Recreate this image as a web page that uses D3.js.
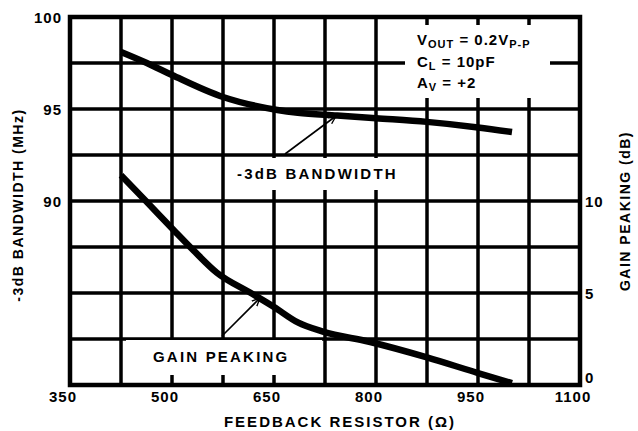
<!DOCTYPE html>
<html><head><meta charset="utf-8">
<script src="https://cdn.jsdelivr.net/npm/d3@7"></script>
<style>
html,body{margin:0;padding:0;background:#fff;}
text{font-family:"Liberation Sans",Arial,Helvetica,sans-serif;font-weight:bold;fill:#000;}
</style></head>
<body><svg id="c" width="638" height="431"></svg>
<script>
// Data
const resistor = [425, 463, 500, 575, 655, 685, 743, 800, 875, 950, 1000];
const bandwidth = [98.1, 97.5, 96.85, 95.65, 94.95, 94.8, 94.65, 94.5, 94.3, 94.0, 93.75];
const gainR = [425, 463, 503, 532, 566, 616, 650, 685, 722, 790, 875, 950, 1000];
const gainPeaking = [11.4, 9.95, 8.4, 7.3, 6.1, 5.0, 4.24, 3.4, 2.9, 2.35, 1.5, 0.65, 0.1];
const xGrid = [350,425,500,575,650,725,800,875,950,1025,1100];
const xTickLabels = [350,500,650,800,950,1100];
const yGridMHz = [80,82.5,85,87.5,90,92.5,95,97.5,100];
const yLeftLabels = [90,95,100];
const yRightLabels = [0,5,10];

const svg = d3.select("#c");
const L=70, R=580, T=17, B=385;
const x = d3.scaleLinear().domain([350,1100]).range([L,R]);
const yL = d3.scaleLinear().domain([80,100]).range([B,T]);
const yR = d3.scaleLinear().domain([0,20]).range([B,T]);

// grid
const g = svg.append("g");
g.selectAll(".vg").data(xGrid).join("line")
  .attr("x1",d=>x(d)).attr("x2",d=>x(d)).attr("y1",T).attr("y2",B)
  .attr("stroke","#000").attr("stroke-width",3.5);
g.selectAll(".hg").data(yGridMHz).join("line")
  .attr("y1",d=>yL(d)).attr("y2",d=>yL(d)).attr("x1",L).attr("x2",R)
  .attr("stroke","#000").attr("stroke-width",3.5);
g.append("rect").attr("x",L).attr("y",T).attr("width",R-L).attr("height",B-T)
  .attr("fill","none").attr("stroke","#000").attr("stroke-width",4.5);

// white boxes behind labels
svg.append("rect").attr("x",405).attr("y",25).attr("width",145).attr("height",73).attr("fill","#fff");
svg.append("rect").attr("x",229).attr("y",158).attr("width",176).attr("height",32).attr("fill","#fff");
svg.append("rect").attr("x",126).attr("y",340).attr("width",196).attr("height",35).attr("fill","#fff");

// curves
const bwLine = d3.line().x((d,i)=>x(resistor[i])).y(d=>yL(d)).curve(d3.curveMonotoneX);
svg.append("path").attr("d",bwLine(bandwidth)).attr("fill","none").attr("stroke","#000").attr("stroke-width",6.5);
const gLine = d3.line().x((d,i)=>x(gainR[i])).y(d=>yR(d)).curve(d3.curveMonotoneX);
svg.append("path").attr("d",gLine(gainPeaking)).attr("fill","none").attr("stroke","#000").attr("stroke-width",6.5);

// arrows
const defs = svg.append("defs");
defs.append("marker").attr("id","ah").attr("viewBox","0 0 10 10").attr("refX",9).attr("refY",5)
  .attr("markerWidth",9).attr("markerHeight",9).attr("orient","auto").attr("markerUnits","userSpaceOnUse")
  .append("path").attr("d","M0,1 L9,5 L0,9").attr("fill","none").attr("stroke","#000").attr("stroke-width",1.5);
svg.append("line").attr("x1",285).attr("y1",154).attr("x2",336).attr("y2",116)
  .attr("stroke","#000").attr("stroke-width",1.6).attr("marker-end","url(#ah)");
svg.append("line").attr("x1",222).attr("y1",336).attr("x2",260).attr("y2",298)
  .attr("stroke","#000").attr("stroke-width",1.6).attr("marker-end","url(#ah)");

// labels
svg.append("text").attr("x",237).attr("y",179).attr("font-size",15).attr("letter-spacing",2.2).text("-3dB BANDWIDTH");
svg.append("text").attr("x",153).attr("y",362).attr("font-size",15).attr("letter-spacing",2.2).text("GAIN PEAKING");

// legend
const lg = svg.append("g").attr("font-size",15).attr("letter-spacing",1);
let t1 = lg.append("text").attr("x",417).attr("y",45);
t1.append("tspan").text("V");
t1.append("tspan").attr("font-size",11).attr("dy",3).text("OUT");
t1.append("tspan").attr("dy",-3).text(" = 0.2V");
t1.append("tspan").attr("font-size",11).attr("dy",3).text("P-P");
let t2 = lg.append("text").attr("x",417).attr("y",67);
t2.append("tspan").text("C");
t2.append("tspan").attr("font-size",11).attr("dy",3).text("L");
t2.append("tspan").attr("dy",-3).text(" = 10pF");
let t3 = lg.append("text").attr("x",417).attr("y",88);
t3.append("tspan").text("A");
t3.append("tspan").attr("font-size",11).attr("dy",3).text("V");
t3.append("tspan").attr("dy",-3).text(" = +2");

// axes tick labels
svg.selectAll(".xt").data(xTickLabels).join("text")
  .attr("x",d=>x(d)-7).attr("y",402).attr("text-anchor","middle").attr("font-size",15).attr("letter-spacing",1)
  .text(d=>d);
svg.selectAll(".yl").data(yLeftLabels).join("text")
  .attr("x",62).attr("y",d=>yL(d)+6).attr("text-anchor","end").attr("font-size",15).attr("letter-spacing",1)
  .text(d=>d);
svg.selectAll(".yr").data(yRightLabels).join("text")
  .attr("x",585).attr("y",d=>d===0 ? yR(d)-2 : yR(d)+6).attr("text-anchor","start").attr("font-size",15).attr("letter-spacing",1)
  .text(d=>d);

// axis titles
svg.append("text").attr("x",340).attr("y",427).attr("text-anchor","middle").attr("font-size",15).attr("letter-spacing",2)
  .text("FEEDBACK RESISTOR (\u03A9)");
svg.append("text").attr("transform","translate(23,205) rotate(-90)").attr("text-anchor","middle").attr("font-size",14).attr("letter-spacing",1.5)
  .text("-3dB BANDWIDTH (MHz)");
svg.append("text").attr("transform","translate(630,211) rotate(-90)").attr("text-anchor","middle").attr("font-size",14).attr("letter-spacing",1.5)
  .text("GAIN PEAKING (dB)");
</script></body></html>
